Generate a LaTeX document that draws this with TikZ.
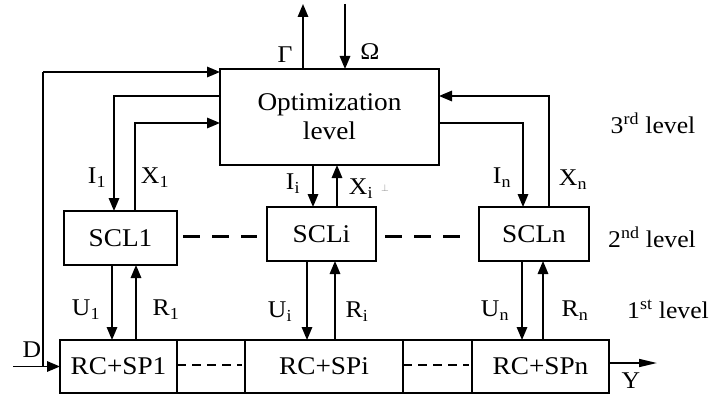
\documentclass[tikz,border=0pt]{standalone}
\usepackage{fontspec}
\setmainfont[FakeStretch=1.07]{Liberation Serif}
\usetikzlibrary{arrows.meta}
\begin{document}
\begin{tikzpicture}[x=1pt,y=-1pt,
  box/.style={draw, line width=1.5pt, inner sep=0pt, outer sep=0pt, align=center, font=\fontsize{25.5}{29}\selectfont},
  arr/.style={line width=1.6pt, -{Triangle[length=13pt,width=10.5pt]}},
  yarr/.style={line width=1.6pt, -{Triangle[length=18pt,width=8pt]}},
  lbl/.style={font=\fontsize{24}{26}\selectfont, inner sep=0pt},
  bigdash/.style={line width=3pt, dash pattern=on 17pt off 12pt},
  smalldash/.style={line width=1.2pt, dash pattern=on 9pt off 6pt}]
\useasboundingbox (0,0) rectangle (711,396);
% boxes
\node[box, minimum width=219pt, minimum height=96pt] (opt) at (329.5,117) {Optimization\\level};
\node[box, minimum width=113pt, minimum height=54pt] (scl1) at (120.5,238) {SCL1};
\node[box, minimum width=109pt, minimum height=54pt] (scli) at (321.5,234) {SCLi};
\node[box, minimum width=110pt, minimum height=54pt] (scln) at (534,234) {SCLn};
\node[box, minimum width=117pt, minimum height=53pt] (rc1) at (118.5,366.5) {RC+SP1};
\node[box, minimum width=68pt, minimum height=53pt] (gap1) at (211,366.5) {};
\node[box, minimum width=158pt, minimum height=53pt] (rci) at (324,366.5) {RC+SPi};
\node[box, minimum width=69pt, minimum height=53pt] (gap2) at (437.5,366.5) {};
\node[box, minimum width=137pt, minimum height=53pt] (rcn) at (540.5,366.5) {RC+SPn};
% coordinates
\coordinate (gtop) at (303,4);
\coordinate (otop) at (345,4);
\coordinate (dstart) at (13,366.5);
\coordinate (dc) at (43,72);
\coordinate (i1c) at (114,96);
\coordinate (x1c) at (135,123);
\coordinate (iic) at (313,0);
\coordinate (xic) at (337,0);
\coordinate (inc) at (523,123);
\coordinate (xnc) at (549,96);
\coordinate (u1x) at (112,0);
\coordinate (r1x) at (136,0);
\coordinate (uix) at (307,0);
\coordinate (rix) at (335,0);
\coordinate (unx) at (522,0);
\coordinate (rnx) at (543,0);
\coordinate (yend) at (657,363);
% top arrows
\draw[arr] (gtop |- opt.north) -- (gtop);
\draw[arr] (otop) -- (otop |- opt.north);
% D
\draw[arr] (dstart) -- (rc1.west);
\draw[line width=1.6pt] (dc |- rc1.west) -- (dc);
\draw[arr] (dc) -- (opt.west |- dc);
% level 3 - level 2
\draw[arr] (opt.west |- i1c) -- (i1c) -- (i1c |- scl1.north);
\draw[arr] (x1c |- scl1.north) -- (x1c) -- (opt.west |- x1c);
\draw[arr] (iic |- opt.south) -- (iic |- scli.north);
\draw[arr] (xic |- scli.north) -- (xic |- opt.south);
\draw[arr] (opt.east |- inc) -- (inc) -- (inc |- scln.north);
\draw[arr] (xnc |- scln.north) -- (xnc) -- (opt.east |- xnc);
% level 2 - level 1
\draw[arr] (u1x |- scl1.south) -- (u1x |- rc1.north);
\draw[arr] (r1x |- rc1.north) -- (r1x |- scl1.south);
\draw[arr] (uix |- scli.south) -- (uix |- rci.north);
\draw[arr] (rix |- rci.north) -- (rix |- scli.south);
\draw[arr] (unx |- scln.south) -- (unx |- rcn.north);
\draw[arr] (rnx |- rcn.north) -- (rnx |- scln.south);
% Y
\draw[yarr] (rcn.east |- yend) -- (yend);
% dashes
\draw[bigdash] ([xshift=6pt,yshift=2pt]scl1.east) -- ([xshift=-10pt]scli.west |- 0,236);
\draw[bigdash] ([xshift=9pt,yshift=-2pt]scli.east) -- ([xshift=-19pt]scln.west |- 0,236);
\draw[smalldash] ([yshift=1.5pt]gap1.west) -- ([yshift=1.5pt,xshift=-3pt]gap1.east);
\draw[smalldash] ([yshift=1.5pt]gap2.west) -- ([yshift=1.5pt,xshift=-3pt]gap2.east);
% labels
\node[lbl] (lg) at (285,55) {Γ};
\node[lbl] (lo) at (370,52) {Ω};
\node[lbl] (ld) at (32,350) {D};
\node[lbl] (li1) at (97,178) {I\textsubscript{1}};
\node[lbl] (lx1) at (155,178) {X\textsubscript{1}};
\node[lbl] (lii) at (293,184) {I\textsubscript{i}};
\node[lbl] (lxi) at (361,189) {X\textsubscript{i}};
\node[lbl, text=gray, font=\fontsize{10}{10}\selectfont] (lperp) at (385,188) {$\perp$};
\node[lbl] (lin) at (502,178) {I\textsubscript{n}};
\node[lbl] (lxn) at (573,180) {X\textsubscript{n}};
\node[lbl] (lu1) at (86,310) {U\textsubscript{1}};
\node[lbl] (lr1) at (166,310) {R\textsubscript{1}};
\node[lbl] (lui) at (280,312) {U\textsubscript{i}};
\node[lbl] (lri) at (357,312) {R\textsubscript{i}};
\node[lbl] (lun) at (495,311) {U\textsubscript{n}};
\node[lbl] (lrn) at (575,311) {R\textsubscript{n}};
\node[lbl] (ly) at (631,381) {Y};
\node[lbl] (l3) at (653,123) {3\textsuperscript{rd} level};
\node[lbl] (l2) at (652,237) {2\textsuperscript{nd} level};
\node[lbl] (l1) at (668,309) {1\textsuperscript{st} level};
\end{tikzpicture}
\end{document}
